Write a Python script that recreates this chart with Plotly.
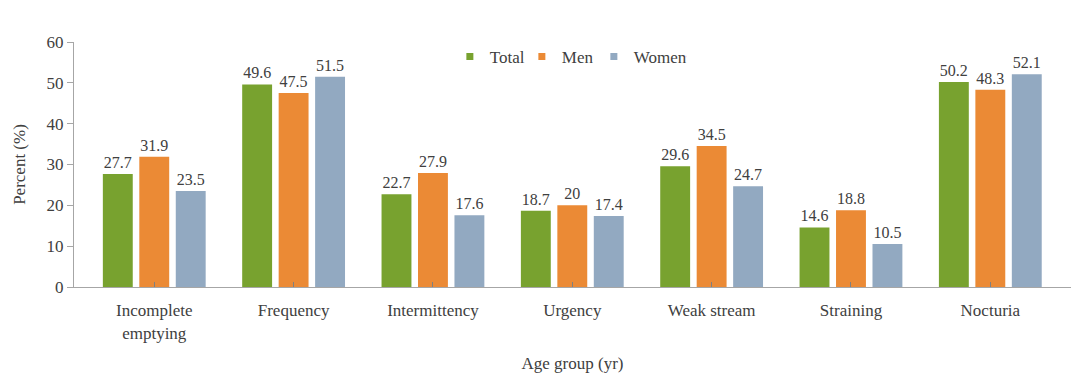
import plotly.graph_objects as go

categories = ["Incomplete<br>emptying", "Frequency", "Intermittency", "Urgency",
              "Weak stream", "Straining", "Nocturia"]
total = [27.7, 49.6, 22.7, 18.7, 29.6, 14.6, 50.2]
men = [31.9, 47.5, 27.9, 20, 34.5, 18.8, 48.3]
women = [23.5, 51.5, 17.6, 17.4, 24.7, 10.5, 52.1]
series_names = ["Total", "Men", "Women"]
colors = ["#78A22F", "#EB8A35", "#92A9C1"]

FONT = "Liberation Serif"
TXT = "#404040"

fig = go.Figure()
for name, vals, col in zip(series_names, [total, men, women], colors):
    fig.add_trace(go.Bar(
        x=list(range(len(categories))), y=vals, name=name,
        marker=dict(color=col, line=dict(width=0)),
        text=[f"{v:g}" for v in vals], textposition="outside",
        textfont=dict(family=FONT, size=16, color=TXT),
        cliponaxis=False, showlegend=False,
    ))
# legend entries with small square keys
for name, col in zip(series_names, colors):
    fig.add_trace(go.Scatter(
        x=[None], y=[None], mode="markers", name=name,
        marker=dict(symbol="square", size=7, color=col),
    ))
# invisible spacer entry so the last label is not clipped
fig.add_trace(go.Scatter(x=[None], y=[None], mode="markers", name=" ",
                         marker=dict(size=1, opacity=0), hoverinfo="skip"))

fig.update_layout(
    width=1080, height=387,
    margin=dict(l=66, r=17, t=34, b=108, autoexpand=False),
    paper_bgcolor="white", plot_bgcolor="white",
    barmode="group", bargap=0.215, bargroupgap=0.18,
    font=dict(family=FONT, size=17, color=TXT),
    legend=dict(orientation="h", x=0.377, xanchor="left", y=1.012, yanchor="top",
                font=dict(family=FONT, size=17, color=TXT),
                entrywidth=27, entrywidthmode="pixels",
                itemwidth=30, tracegroupgap=0, bgcolor="rgba(0,0,0,0)"),
    xaxis=dict(
        tickmode="array", tickvals=list(range(len(categories))), ticktext=categories,
        range=[-0.576, 6.579], showline=True, linecolor="#A6A6A6", linewidth=1,
        ticks="inside", tickson="boundaries", ticklen=5, tickcolor="#7F7F7F",
        showgrid=False, zeroline=False, automargin=False, ticklabelstandoff=8,
        title=dict(text="Age group (yr)", font=dict(family=FONT, size=17, color=TXT), standoff=15),
        tickfont=dict(family=FONT, size=17, color=TXT),
    ),
    yaxis=dict(
        range=[0, 60], dtick=10, showline=True, linecolor="#A6A6A6", linewidth=1,
        ticks="outside", ticklen=6, tickcolor="#A6A6A6", showgrid=False, zeroline=False,
        automargin=False,
        title=dict(text="Percent (%)", font=dict(family=FONT, size=17, color=TXT), standoff=16),
        tickfont=dict(family=FONT, size=17, color=TXT),
    ),
)

fig.write_html("out.html")
